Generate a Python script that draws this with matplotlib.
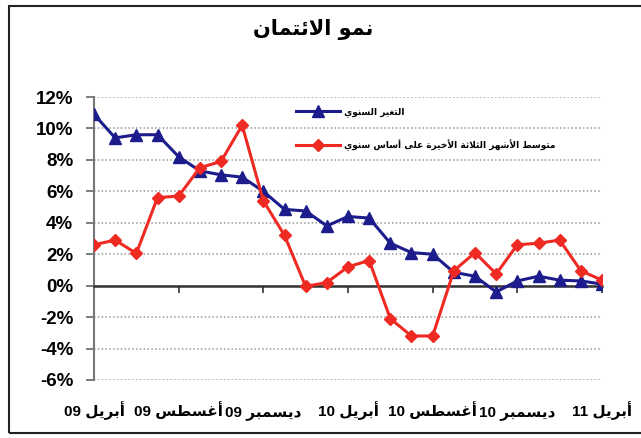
import matplotlib
matplotlib.use('Agg')
import matplotlib.pyplot as plt
from matplotlib.patches import Rectangle
import numpy as np

# monthly data, April 2009 .. April 2011
months = np.arange(25)
annual_change = [10.9, 9.4, 9.6, 9.6, 8.2, 7.3, 7.05, 6.9, 6.0, 4.85, 4.75, 3.8,
                 4.4, 4.3, 2.7, 2.1, 2.0, 0.85, 0.6, -0.4, 0.3, 0.6, 0.35, 0.3, 0.1]
three_month_avg = [2.6, 2.9, 2.05, 5.6, 5.7, 7.5, 7.9, 10.2, 5.4, 3.2, -0.05, 0.2,
                   1.2, 1.6, -2.1, -3.2, -3.2, 0.95, 2.1, 0.75, 2.6, 2.7, 2.9, 0.95, 0.35]
tick_pos = [0, 4, 8, 12, 16, 20, 24]
tick_labels = ['أبريل 09', 'أغسطس 09', 'ديسمبر 09', 'أبريل 10',
               'أغسطس 10', 'ديسمبر 10', 'أبريل 11']
y_ticks = [-6, -4, -2, 0, 2, 4, 6, 8, 10, 12]
title = 'نمو الائتمان'
label_annual = 'التغير السنوي'
label_avg = 'متوسط الأشهر الثلاثة الأخيرة على أساس سنوي'

# matplotlib has no arabic shaping, so pick presentation forms by hand
FORMS = {
    'ء': (0xFE80, 1), 'آ': (0xFE81, 2), 'أ': (0xFE83, 2), 'ؤ': (0xFE85, 2),
    'إ': (0xFE87, 2), 'ئ': (0xFE89, 4), 'ا': (0xFE8D, 2), 'ب': (0xFE8F, 4),
    'ة': (0xFE93, 2), 'ت': (0xFE95, 4), 'ث': (0xFE99, 4), 'ج': (0xFE9D, 4),
    'ح': (0xFEA1, 4), 'خ': (0xFEA5, 4), 'د': (0xFEA9, 2), 'ذ': (0xFEAB, 2),
    'ر': (0xFEAD, 2), 'ز': (0xFEAF, 2), 'س': (0xFEB1, 4), 'ش': (0xFEB5, 4),
    'ص': (0xFEB9, 4), 'ض': (0xFEBD, 4), 'ط': (0xFEC1, 4), 'ظ': (0xFEC5, 4),
    'ع': (0xFEC9, 4), 'غ': (0xFECD, 4), 'ف': (0xFED1, 4), 'ق': (0xFED5, 4),
    'ك': (0xFED9, 4), 'ل': (0xFEDD, 4), 'م': (0xFEE1, 4), 'ن': (0xFEE5, 4),
    'ه': (0xFEE9, 4), 'و': (0xFEED, 2), 'ى': (0xFEEF, 2), 'ي': (0xFEF1, 4),
}
LAM_ALEF = {'آ': 0xFEF5, 'أ': 0xFEF7, 'إ': 0xFEF9, 'ا': 0xFEFB}


def shape_word(word):
    toks = []
    i = 0
    while i < len(word):
        c = word[i]
        if c == 'ل' and i + 1 < len(word) and word[i + 1] in LAM_ALEF:
            toks.append((LAM_ALEF[word[i + 1]], 2))
            i += 2
            continue
        toks.append(FORMS.get(c, (ord(c), 0)))
        i += 1
    out = []
    for k, (base, n) in enumerate(toks):
        if n == 0:
            out.append(chr(base))
            continue
        prev = k > 0 and toks[k - 1][1] == 4 and n >= 2
        nxt = n == 4 and k + 1 < len(toks) and toks[k + 1][1] >= 2
        off = 3 if (prev and nxt) else 1 if prev else 2 if nxt else 0
        out.append(chr(base + off))
    return ''.join(out)[::-1]


def ar(text):
    words = []
    for w in text.split(' '):
        if any(ch in FORMS for ch in w):
            words.append(shape_word(w))
        else:
            words.append(w)
    return ' '.join(words[::-1])


NUM_FONT = ['Liberation Sans Narrow', 'Liberation Sans', 'DejaVu Sans Condensed', 'DejaVu Sans']
AR_FONT = ['DejaVu Sans Condensed', 'DejaVu Sans']
BLUE = '#1c1c8c'
RED = '#ee2a22'

fig = plt.figure(figsize=(6.41, 4.38), dpi=100)
ax = fig.add_axes([94 / 641, 58 / 438, 508 / 641, 283 / 438])

ax.plot(months, annual_change, color=BLUE, lw=2.2, marker='^', ms=8,
        label=ar(label_annual), zorder=3)
ax.plot(months, three_month_avg, color=RED, lw=2.2, marker='D', ms=6.5,
        label=ar(label_avg), zorder=4)

ax.set_xlim(0, 24)
ax.set_ylim(-6, 12)
ax.set_yticks(y_ticks)
ax.set_yticklabels(['%d%%' % v for v in y_ticks], family=NUM_FONT,
                   fontsize=13.5, fontweight='bold')
ax.yaxis.grid(True, color='#999999', ls=(0, (1, 1.5)), lw=1.1)
ax.tick_params(axis='y', length=6, width=1.2, color='#666666', pad=9)

for s in ['top', 'right']:
    ax.spines[s].set_visible(False)
ax.spines['left'].set_color('#777777')
ax.spines['left'].set_linewidth(1.5)
ax.spines['bottom'].set_position(('data', 0))
ax.spines['bottom'].set_color('#333333')
ax.spines['bottom'].set_linewidth(1.8)
ax.set_xticks(tick_pos)
ax.tick_params(axis='x', length=5, width=1.2, color='#333333', labelbottom=False)

# month labels sit low, under the -6% line, all on one baseline
sec = ax.secondary_xaxis('bottom')
sec.set_xticks(tick_pos)
sec.set_xticklabels([ar(t) for t in tick_labels], family=NUM_FONT,
                    fontsize=11, fontweight='bold')
sec.spines['bottom'].set_visible(False)
sec.tick_params(length=0, pad=26)
for lbl in sec.get_xticklabels():
    lbl.set_verticalalignment('baseline')

fig.text(313 / 641, 1 - 29 / 438, ar(title), ha='center', va='center',
         family=['DejaVu Sans'], fontsize=15, fontweight='bold')

ax.legend(loc='upper left', bbox_to_anchor=(289 / 641, 1 - 100 / 438),
          bbox_transform=fig.transFigure, frameon=False,
          prop={'family': AR_FONT, 'size': 6.5, 'weight': 'bold'},
          handlelength=4.8, handletextpad=0.5, labelspacing=2.45, borderpad=0.3)

fig.patches.append(Rectangle((9 / 641, 5 / 438), 1.5, 427 / 438, fill=False,
                             lw=1.5, edgecolor='#222222',
                             transform=fig.transFigure, figure=fig))

fig.savefig('out.png', dpi=100, facecolor='white')
